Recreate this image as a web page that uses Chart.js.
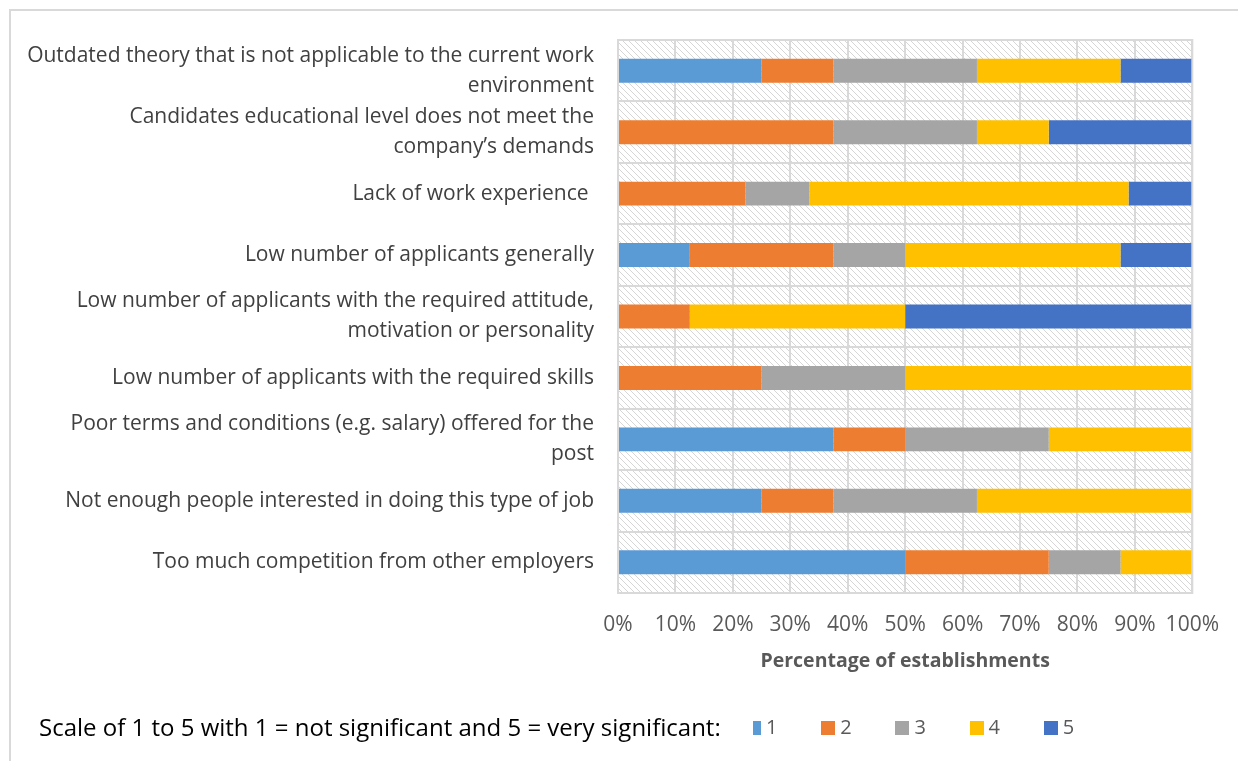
<!DOCTYPE html>
<html>
<head>
<meta charset="utf-8">
<script src="https://cdn.jsdelivr.net/npm/chart.js@4"></script>
<style>
  html, body { margin: 0; padding: 0; background: #fff; }
  #wrap { position: relative; width: 1238px; height: 761px; overflow: hidden; }
  #frame { position: absolute; left: 9px; top: 9px; width: 1240px; height: 760px; border: 2px solid #d9d9d9; box-sizing: border-box; }
  canvas { position: absolute; left: 0; top: 0; }
  #legend { position: absolute; left: 39px; top: 710px; font-family: "Open Sans", sans-serif; font-size: 24px; color: #000; white-space: nowrap; height: 34px; }
  #legend span { position: absolute; top: 0; line-height: 34px; }
  #legend .box { top: 11px; width: 14px; height: 14px; }
  #legend .name { color: #595959; font-size: 20px; }
</style>
</head>
<body>
<div id="wrap">
  <div id="frame"></div>
  <canvas id="chart" width="1238" height="761"></canvas>
  <div id="legend"><span class="title">Scale of 1 to 5 with 1 = not significant and 5 = very significant:</span></div>
</div>
<script>
const categories = [
  ["Outdated theory that is not applicable to the current work", "environment"],
  ["Candidates educational level does not meet the", "company\u2019s demands"],
  "Lack of work experience ",
  "Low number of applicants generally",
  ["Low number of applicants with the required attitude,", "motivation or personality"],
  "Low number of applicants with the required skills",
  ["Poor terms and conditions (e.g. salary) offered for the", "post"],
  "Not enough people interested in doing this type of job",
  "Too much competition from other employers"
];
const scaleLabels = ["1", "2", "3", "4", "5"];
const scale1 = [25, 0, 0, 12.5, 0, 0, 37.5, 25, 50];
const scale2 = [12.5, 37.5, 22.2, 25, 12.5, 25, 12.5, 12.5, 25];
const scale3 = [25, 25, 11.1, 12.5, 0, 25, 25, 25, 12.5];
const scale4 = [25, 12.5, 55.6, 37.5, 37.5, 50, 25, 37.5, 12.5];
const scale5 = [12.5, 25, 11.1, 12.5, 50, 0, 0, 0, 0];
const xTicks = [0, 10, 20, 30, 40, 50, 60, 70, 80, 90, 100];
const colors = ["#5B9BD5", "#ED7D31", "#A5A5A5", "#FFC000", "#4472C4"];

const series = [scale1, scale2, scale3, scale4, scale5];

// hatched plot background like the Excel pattern fill
function makeHatch() {
  const c = document.createElement("canvas");
  c.width = 6; c.height = 6;
  const g = c.getContext("2d");
  g.fillStyle = "#fff";
  g.fillRect(0, 0, 6, 6);
  g.strokeStyle = "#d6d6d6";
  g.lineWidth = 1;
  g.beginPath();
  g.moveTo(-1, -1); g.lineTo(7, 7);
  g.moveTo(-1, 5); g.lineTo(1, 7);
  g.moveTo(5, -1); g.lineTo(7, 1);
  g.stroke();
  return g.createPattern(c, "repeat");
}

const hatchBg = {
  id: "hatchBg",
  beforeDraw(chart) {
    const { ctx, chartArea: a } = chart;
    ctx.save();
    ctx.fillStyle = makeHatch();
    ctx.fillRect(a.left, a.top, a.right - a.left, a.bottom - a.top);
    ctx.restore();
  }
};

const plotBorder = {
  id: "plotBorder",
  afterDatasetsDraw(chart) {
    const { ctx, chartArea: a } = chart;
    ctx.save();
    ctx.strokeStyle = "#d9d9d9";
    ctx.lineWidth = 2;
    ctx.strokeRect(a.left, a.top, a.right - a.left, a.bottom - a.top);
    ctx.restore();
  }
};

new Chart(document.getElementById("chart"), {
  type: "bar",
  data: {
    labels: categories,
    datasets: series.map((d, i) => ({
      label: scaleLabels[i],
      data: d,
      backgroundColor: colors[i],
      borderWidth: 0,
      barPercentage: 1,
      categoryPercentage: 0.39
    }))
  },
  options: {
    indexAxis: "y",
    responsive: false,
    animation: false,
    layout: { padding: { top: 40, right: 41, bottom: 86, left: 0 } },
    plugins: {
      legend: { display: false },
      tooltip: { enabled: false }
    },
    scales: {
      x: {
        stacked: true,
        min: 0,
        max: 100,
        afterBuildTicks(scale) { scale.ticks = xTicks.map(v => ({ value: v })); },
        afterFit(scale) { scale.height = 82; },
        border: { display: false },
        grid: { color: "#d9d9d9", lineWidth: 2, drawTicks: false },
        ticks: {
          padding: 19,
          color: "#595959",
          autoSkip: false,
          maxRotation: 0,
          font: { family: "Open Sans", size: 21 },
          callback: v => v + "%"
        },
        title: {
          display: true,
          text: "Percentage of establishments",
          color: "#595959",
          padding: { top: 4, bottom: 2 },
          font: { family: "Open Sans", size: 19.5, weight: "bold" }
        }
      },
      y: {
        stacked: true,
        afterFit(scale) { scale.width = 618; },
        border: { display: false },
        grid: { color: "#d9d9d9", lineWidth: 2, offset: true, drawTicks: false },
        ticks: {
          padding: 24,
          color: "#404040",
          autoSkip: false,
          font: { family: "Open Sans", size: 21, lineHeight: 1.43 }
        }
      }
    }
  },
  plugins: [hatchBg, plotBorder]
});

// legend below the chart, built from the series names and colours
const legend = document.getElementById("legend");
scaleLabels.forEach((name, i) => {
  const x = 708 + i * 74.2;
  const box = document.createElement("span");
  box.className = "box";
  box.style.left = (x + (i === 0 ? 6 : 0)) + "px";
  box.style.width = (i === 0 ? 8 : 14) + "px";
  box.style.background = colors[i];
  const txt = document.createElement("span");
  txt.className = "name";
  txt.style.left = (x + 19) + "px";
  txt.textContent = name;
  legend.appendChild(box);
  legend.appendChild(txt);
});
</script>
</body>
</html>
